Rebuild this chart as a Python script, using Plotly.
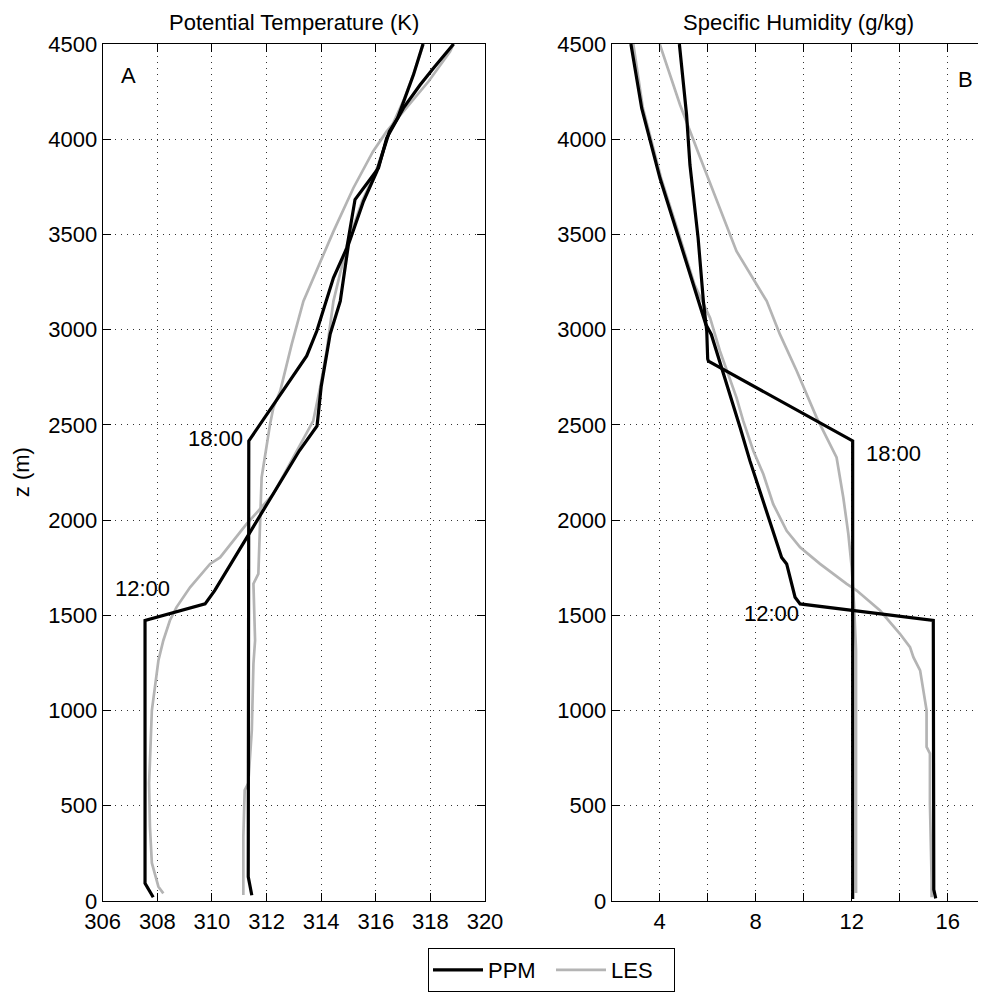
import plotly.graph_objects as go

# ---------------- data: potential temperature (K) ----------------
ppm12_theta_z = [20, 93, 1473, 1560, 1630, 1892, 2364, 2495, 2700, 2977, 3150, 3447, 3674, 3831, 4041, 4111, 4215, 4338, 4500]
ppm12_theta = [307.85, 307.55, 307.55, 309.75, 310.10, 311.20, 313.20, 313.85, 314.00, 314.33, 314.70, 315.00, 315.55, 316.04, 316.50, 316.80, 317.07, 317.38, 317.73]

ppm18_theta_z = [30, 127, 2416, 2862, 2993, 3150, 3272, 3429, 3683, 3849, 4006, 4163, 4285, 4373, 4500]
ppm18_theta = [311.46, 311.33, 311.35, 313.47, 313.84, 314.20, 314.45, 314.94, 315.24, 316.10, 316.40, 317.01, 317.62, 318.11, 318.85]

les12_theta_z = [40, 75, 200, 390, 618, 1000, 1263, 1368, 1473, 1542, 1647, 1770, 1804, 1980, 2137, 2521, 2695, 2888, 3150, 3447, 3674, 3831, 4041, 4215, 4338, 4500]
les12_theta = [308.22, 308.04, 307.80, 307.73, 307.70, 307.80, 308.04, 308.22, 308.46, 308.70, 309.20, 309.93, 310.30, 311.27, 312.25, 313.71, 313.96, 314.20, 314.45, 314.95, 315.50, 316.00, 316.50, 317.05, 317.37, 317.75]

les18_theta_z = [31, 337, 582, 617, 896, 1246, 1368, 1666, 1718, 2014, 2224, 2505, 2590, 2678, 2923, 3150, 3272, 3516, 3744, 3936, 4041, 4146, 4303, 4460, 4500]
les18_theta = [311.15, 311.15, 311.20, 311.33, 311.46, 311.52, 311.58, 311.52, 311.70, 311.76, 311.82, 312.13, 312.25, 312.50, 312.92, 313.35, 313.71, 314.45, 315.18, 315.90, 316.40, 317.00, 317.93, 318.72, 318.85]

# ---------------- data: specific humidity (g/kg) ----------------
ppm12_q_z = [14, 60, 1473, 1525, 1560, 1595, 1770, 1804, 2102, 2311, 2486, 2713, 2975, 3028, 3237, 3517, 3796, 4163, 4500]
ppm12_q = [15.50, 15.42, 15.40, 12.07, 9.85, 9.64, 9.29, 9.08, 8.32, 7.76, 7.35, 6.79, 6.15, 5.92, 5.40, 4.71, 4.01, 3.25, 2.80]

ppm18_q_z = [10, 2416, 2835, 2846, 2993, 3150, 3482, 3866, 4128, 4500]
ppm18_q = [12.04, 12.04, 6.03, 6.00, 5.96, 5.82, 5.60, 5.26, 5.12, 4.82]

les12_q_z = [20, 110, 512, 774, 809, 1001, 1211, 1280, 1333, 1403, 1525, 1630, 1665, 1770, 1857, 1944, 2084, 2241, 2364, 2521, 2643, 2888, 3062, 3237, 3517, 3796, 4163, 4500]
les12_q = [15.33, 15.33, 15.26, 15.26, 15.12, 15.12, 14.85, 14.57, 14.43, 14.01, 13.18, 12.21, 11.79, 10.68, 9.85, 9.29, 8.73, 8.32, 7.90, 7.48, 7.20, 6.51, 6.10, 5.45, 4.76, 4.06, 3.30, 2.90]

les18_q_z = [42, 1316, 1550, 1752, 1927, 2119, 2329, 2433, 2538, 2783, 2975, 3150, 3412, 3905, 4180, 4500]
les18_q = [12.18, 12.18, 12.10, 12.00, 11.86, 11.65, 11.37, 10.96, 10.54, 9.71, 9.01, 8.46, 7.20, 5.68, 4.85, 4.00]

theta_ticks = [306, 308, 310, 312, 314, 316, 318, 320]
q_ticks = [2, 4, 6, 8, 10, 12, 14, 16]
q_ticktext = ["", "4", "", "8", "", "12", "", "16"]
z_ticks = [0, 500, 1000, 1500, 2000, 2500, 3000, 3500, 4000, 4500]

BLACK = "#000000"
GRAY = "#b4b4b4"
FONT = "Liberation Sans, Arial, sans-serif"
FS = 22

fig = go.Figure()

def add(x, y, color, width, xa, ya, name, show, rank):
    fig.add_trace(go.Scatter(x=x, y=y, mode="lines", line=dict(color=color, width=width),
                             xaxis=xa, yaxis=ya, name=name, legendgroup=name,
                             showlegend=show, legendrank=rank, hoverinfo="skip"))

# gray first (drawn below black)
add(les12_theta, les12_theta_z, GRAY, 2.7, "x", "y", "LES", True, 2)
add(les18_theta, les18_theta_z, GRAY, 2.7, "x", "y", "LES", False, 2)
add(les12_q, les12_q_z, GRAY, 2.7, "x2", "y2", "LES", False, 2)
add(les18_q, les18_q_z, GRAY, 2.7, "x2", "y2", "LES", False, 2)
add(ppm12_theta, ppm12_theta_z, BLACK, 3.2, "x", "y", "PPM", True, 1)
add(ppm18_theta, ppm18_theta_z, BLACK, 3.2, "x", "y", "PPM", False, 1)
add(ppm12_q, ppm12_q_z, BLACK, 3.2, "x2", "y2", "PPM", False, 1)
add(ppm18_q, ppm18_q_z, BLACK, 3.2, "x2", "y2", "PPM", False, 1)

# the page body has an 8px margin: work in screen pixels and shift
OFF = 8
W, H = 986 - OFF, 992 - OFF

def fx(px):
    return (px - OFF) / W

def fy(py):
    return (H - (py - OFF)) / H

L1, R1 = 102.7, 485.0
L2, R2 = 611.7, 985.0
TOP, BOT = 44.0, 901.0
ydom = [fy(BOT), fy(TOP)]

axis_common = dict(
    showline=True, linecolor="black", linewidth=1.3,
    ticks="inside", ticklen=8, tickwidth=1, tickcolor="black",
    showgrid=True, gridcolor="#333333", gridwidth=1, griddash="1px,5px",
    zeroline=False, automargin=False,
    tickfont=dict(family=FONT, size=FS, color="black"),
)

q_max = 2 + (R2 - L2) / 24.0

fig.update_layout(
    width=W, height=H, margin=dict(l=0, r=0, t=0, b=0, autoexpand=False),
    paper_bgcolor="white", plot_bgcolor="white",
    font=dict(family=FONT, size=FS, color="black"),
    xaxis=dict(domain=[fx(L1), fx(R1)], range=[306, 320], tickvals=theta_ticks,
               anchor="y", mirror="ticks", **axis_common),
    yaxis=dict(domain=ydom, range=[0, 4500], tickvals=z_ticks, anchor="x",
               mirror="ticks", **axis_common),
    xaxis2=dict(domain=[fx(L2), min(1.0, fx(R2))], range=[2, q_max], tickvals=q_ticks,
                ticktext=q_ticktext, anchor="y2", mirror="ticks", **axis_common),
    yaxis2=dict(domain=ydom, range=[0, 4500], tickvals=z_ticks, anchor="x2",
                mirror=False, **axis_common),
    legend=dict(orientation="h", x=fx(551.5), xanchor="center", y=fy(948), yanchor="top",
                bordercolor="black", borderwidth=1, bgcolor="white",
                entrywidth=58, entrywidthmode="pixels", itemwidth=50,
                font=dict(family=FONT, size=FS, color="black")),
    showlegend=True,
)

annos = [
    dict(text="Potential Temperature (K)", x=fx((L1 + R1) / 2), y=fy(8.5), yanchor="top"),
    dict(text="Specific Humidity (g/kg)", x=fx(798), y=fy(8.5), yanchor="top"),
    dict(text="z (m)", x=fx(21.7), y=fy(472.5), textangle=-90, yanchor="middle"),
    dict(text="A", x=fx(128.3), y=fy(75), yanchor="middle"),
    dict(text="B", x=fx(965), y=fy(80), yanchor="middle"),
]
for a in annos:
    fig.add_annotation(xref="paper", yref="paper", showarrow=False, xanchor="center",
                       font=dict(family=FONT, size=FS, color="black"), **a)

# time labels in data coordinates
fig.add_annotation(text="18:00", x=311.2, y=2430, xref="x", yref="y", showarrow=False,
                   xanchor="right", yanchor="middle", font=dict(family=FONT, size=FS, color="black"))
fig.add_annotation(text="12:00", x=308.55, y=1640, xref="x", yref="y", showarrow=False,
                   xanchor="right", yanchor="middle", font=dict(family=FONT, size=FS, color="black"))
fig.add_annotation(text="18:00", x=12.5, y=2350, xref="x2", yref="y2", showarrow=False,
                   xanchor="left", yanchor="middle", font=dict(family=FONT, size=FS, color="black"))
fig.add_annotation(text="12:00", x=9.9, y=1510, xref="x2", yref="y2", showarrow=False,
                   xanchor="right", yanchor="middle", font=dict(family=FONT, size=FS, color="black"))

fig.write_html("out.html")
